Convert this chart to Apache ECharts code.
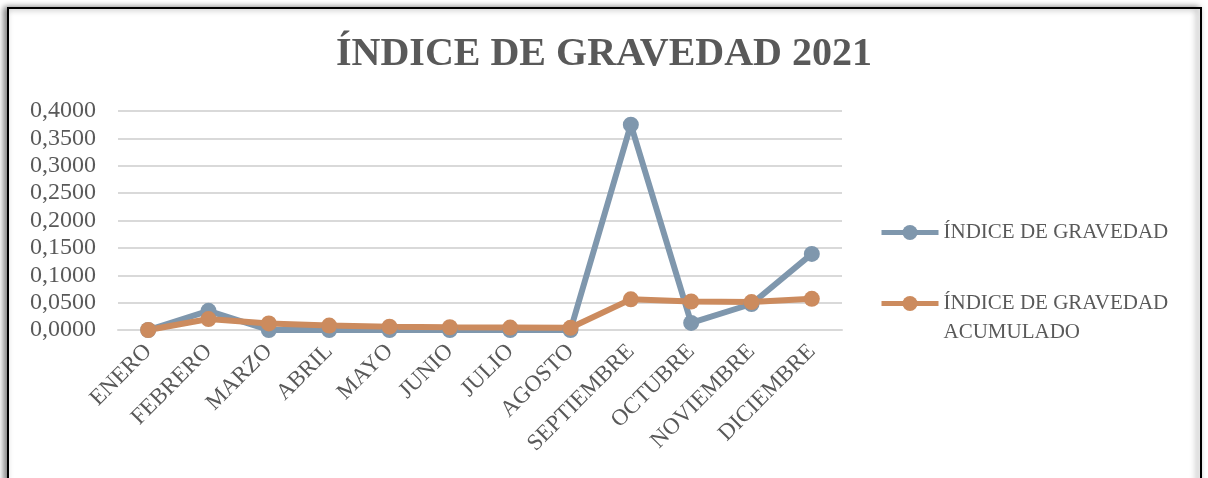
<!DOCTYPE html>
<html>
<head>
<meta charset="utf-8">
<script src="https://cdn.jsdelivr.net/npm/echarts@6/dist/echarts.min.js"></script>
<style>
  html, body { margin: 0; padding: 0; background: #fff; }
  #chart { width: 1208px; height: 478px; }
</style>
</head>
<body>
<div id="chart"></div>
<script>
// months on the x axis
const months = ['ENERO', 'FEBRERO', 'MARZO', 'ABRIL', 'MAYO', 'JUNIO', 'JULIO',
  'AGOSTO', 'SEPTIEMBRE', 'OCTUBRE', 'NOVIEMBRE', 'DICIEMBRE'];

// monthly severity index
const indice = [0, 0.035, 0, 0, 0, 0, 0, 0, 0.375, 0.013, 0.0475, 0.139];
// accumulated severity index
const acumulado = [0, 0.020, 0.012, 0.008, 0.006, 0.005, 0.0045, 0.004, 0.056, 0.052, 0.051, 0.057];

const serieNames = ['ÍNDICE DE GRAVEDAD', 'ÍNDICE DE GRAVEDAD ACUMULADO'];

const FONT = 'Liberation Serif';
const GREY = '#595959';

const chart = echarts.init(document.getElementById('chart'));

const legendText = {
  fontFamily: FONT,
  fontSize: 21,
  color: GREY,
  lineHeight: 29
};

const option = {
  animation: false,
  title: {
    text: 'ÍNDICE DE GRAVEDAD 2021',
    left: 'center',
    top: 30,
    textStyle: { fontFamily: FONT, fontSize: 40, fontWeight: 'bold', color: GREY }
  },
  graphic: [{
    type: 'rect',
    z: -10,
    shape: { x: 8, y: 8, width: 1193, height: 520 },
    style: {
      fill: '#fff',
      stroke: '#000',
      lineWidth: 2,
      shadowColor: 'rgba(0,0,0,0.5)',
      shadowBlur: 6,
      shadowOffsetX: -3
    }
  }],
  legend: [{
    data: [serieNames[0]],
    orient: 'vertical',
    left: 879,
    top: 218,
    padding: 0,
    itemWidth: 57,
    itemHeight: 19,
    lineStyle: { width: 5 },
    textStyle: legendText
  }, {
    data: [serieNames[1]],
    orient: 'vertical',
    left: 879,
    top: 260,
    padding: 0,
    itemWidth: 57,
    itemHeight: 19,
    lineStyle: { width: 5 },
    textStyle: legendText,
    formatter: () => '\nÍNDICE DE GRAVEDAD\nACUMULADO'
  }],
  grid: { left: 118, right: 366, top: 111, bottom: 148 },
  xAxis: {
    type: 'category',
    data: months,
    axisLine: { lineStyle: { color: '#d9d9d9', width: 2 } },
    axisTick: { show: false },
    axisLabel: {
      rotate: 45,
      margin: 18,
      fontFamily: FONT,
      fontSize: 23,
      color: GREY,
      interval: 0
    }
  },
  yAxis: {
    type: 'value',
    min: 0,
    max: 0.4,
    interval: 0.05,
    axisLine: { show: false },
    axisTick: { show: false },
    splitLine: { lineStyle: { color: '#d9d9d9', width: 2 } },
    axisLabel: {
      margin: 22,
      fontFamily: FONT,
      fontSize: 24,
      color: GREY,
      formatter: v => v.toFixed(4).replace('.', ',')
    }
  },
  series: [{
    name: serieNames[0],
    type: 'line',
    data: indice,
    symbol: 'circle',
    symbolSize: 16,
    itemStyle: { color: '#7f97ad' },
    lineStyle: { width: 6, color: '#7f97ad' }
  }, {
    name: serieNames[1],
    type: 'line',
    data: acumulado,
    symbol: 'circle',
    symbolSize: 16,
    itemStyle: { color: '#cc8b5e' },
    lineStyle: { width: 6, color: '#cc8b5e' }
  }]
};

chart.setOption(option);
</script>
</body>
</html>
